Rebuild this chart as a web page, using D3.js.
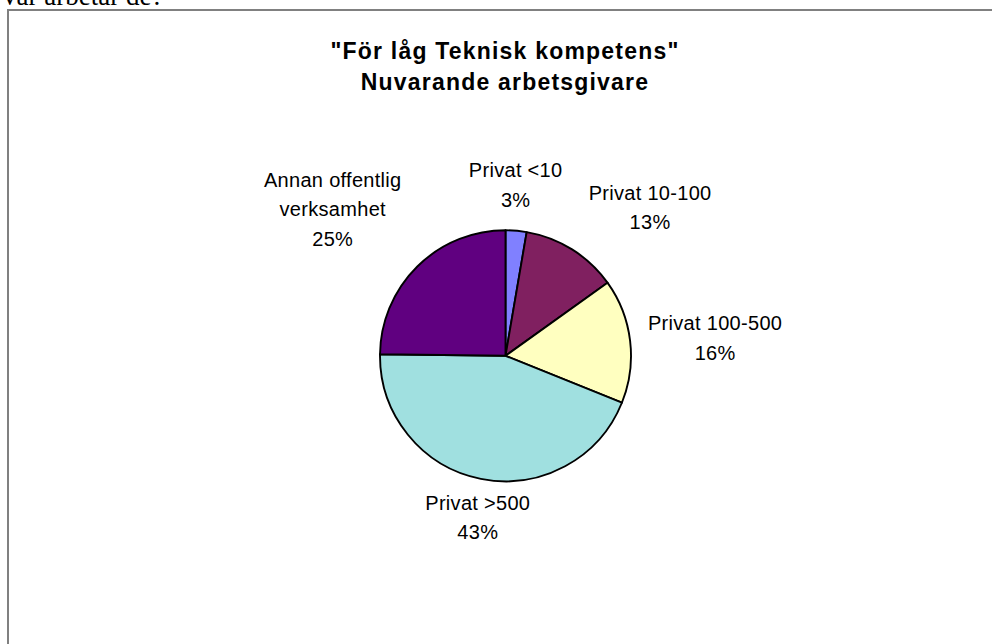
<!DOCTYPE html>
<html>
<head>
<meta charset="utf-8">
<script src="https://cdn.jsdelivr.net/npm/d3@7"></script>
<style>
body { margin: 0; background: #fff; }
svg { display: block; }
</style>
</head>
<body>
<div id="chart-area"></div>
<script>
// data
var categories = ["Privat <10", "Privat 10-100", "Privat 100-500", "Privat >500", "Annan offentlig verksamhet"];
var values = [2.7, 12.4, 16.0, 44.1, 24.8];
var pctLabels = ["3%", "13%", "16%", "43%", "25%"];
var labelLines = [["Privat <10"], ["Privat 10-100"], ["Privat 100-500"], ["Privat >500"], ["Annan offentlig", "verksamhet"]];
var titleLines = ['"För låg Teknisk kompetens"', "Nuvarande arbetsgivare"];
var heading = "Var arbetar de?";
var colors = ["#8080ff", "#802060", "#ffffc0", "#a0e0e0", "#600080"];

var width = 992;
var height = 644;
var radius = 125.5;
var center = {x: 505.5, y: 355.8};
var fontSize = 20;
var lineH = 29.5;
var labelGap = 18;
// manual label offsets (Excel labels had been dragged a bit)
var nudge = [[-6, -6], [30, -5], [0, 2], [11, -1], [-4, -8]];

var data = categories.map((c, i) => ({name: c, value: values[i], lines: labelLines[i].concat([pctLabels[i]]), i: i}));

var svg = d3.select("#chart-area").append("svg")
    .attr("width", width)
    .attr("height", height);

// page heading above the chart, cut by the top edge like in the source
svg.append("text")
    .attr("x", 0)
    .attr("y", 5)
    .attr("font-family", "'Liberation Serif', 'Times New Roman', serif")
    .attr("font-size", 27)
    .attr("fill", "#000")
    .text(heading);

svg.append("rect")
    .attr("x", 8)
    .attr("y", 10)
    .attr("width", 1100)
    .attr("height", 800)
    .attr("fill", "none")
    .attr("stroke", "#808080")
    .attr("stroke-width", 2);

var title = svg.append("text")
    .attr("text-anchor", "middle")
    .attr("font-family", "'Liberation Sans', Arial, sans-serif")
    .attr("font-weight", "bold")
    .attr("font-size", 23)
    .attr("letter-spacing", 1.2)
    .attr("fill", "#000");
title.selectAll("tspan").data(titleLines).enter()
    .append("tspan")
        .attr("x", 505)
        .attr("y", (d, i) => 59 + i * 30.5)
        .text(d => d);

var pie = d3.pie().sort(null).value(d => d.value);
var arc = d3.arc().innerRadius(0).outerRadius(radius);
var color = d3.scaleOrdinal().domain(categories).range(colors);

var group = svg.append("g")
    .attr("transform", "translate(" + center.x + "," + center.y + ")");

group.selectAll("path").data(pie(data)).enter()
    .append("path")
        .attr("d", arc)
        .attr("fill", d => color(d.data.name))
        .attr("stroke", "#000")
        .attr("stroke-width", 1.9)
        .attr("stroke-linejoin", "round");

var labels = group.selectAll("g.label").data(pie(data)).enter()
    .append("g")
        .attr("class", "label");

labels.each(function(d) {
    var g = d3.select(this);
    var n = d.data.lines.length;
    var t = g.append("text")
        .attr("text-anchor", "middle")
        .attr("font-family", "'Liberation Sans', Arial, sans-serif")
        .attr("font-size", fontSize)
        .attr("letter-spacing", 0.3)
        .attr("fill", "#000");
    t.selectAll("tspan").data(d.data.lines).enter()
        .append("tspan")
            .attr("x", 0)
            .attr("y", (s, k) => k * lineH)
            .text(s => s);
    var w = t.node().getBBox().width / 2;
    var capH = fontSize * 0.716;
    var h = ((n - 1) * lineH + capH) / 2;
    var mid = (d.startAngle + d.endAngle) / 2;
    var ux = Math.sin(mid), uy = -Math.cos(mid);
    var m = Math.max(Math.abs(ux), Math.abs(uy));
    var cx = (radius + labelGap) * ux + w * ux / m + nudge[d.data.i][0];
    var cy = (radius + labelGap) * uy + h * uy / m + nudge[d.data.i][1];
    // text origin is first baseline; visual centre sits at ((n-1)*lineH - capH)/2
    g.attr("transform", "translate(" + cx + "," + (cy - ((n - 1) * lineH - capH) / 2) + ")");
});
</script>
</body>
</html>
